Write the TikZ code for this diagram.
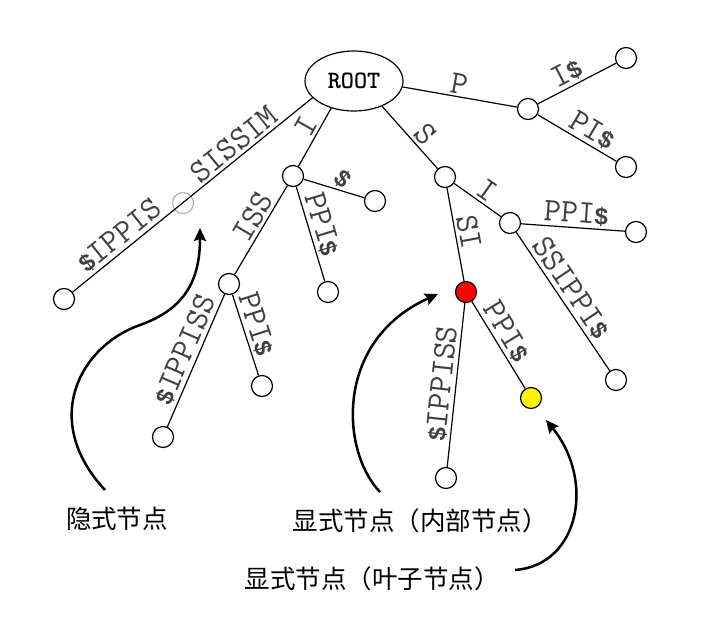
\documentclass[tikz,border=0pt]{standalone}
\usepackage{fontspec}
\usetikzlibrary{shapes.geometric,arrows.meta}
\newfontfamily\cjkfont{Noto Sans CJK SC}
\newfontfamily\dfont{Liberation Sans}
\newcommand\labfont{\ttfamily\fontsize{33}{33}\selectfont}
\newcommand\dol{{\dfont\bfseries\fontsize{24}{24}\selectfont\$}}
\tikzset{
  tn/.style={circle, draw, fill=white, minimum size=21pt, inner sep=0pt, line width=1.2pt},
  impnode/.style={circle, draw=black!30, minimum size=21pt, inner sep=0pt, line width=1.2pt},
  rootnode/.style={ellipse, draw, line width=1.2pt, minimum width=98pt, minimum height=60pt, inner sep=0pt,
    font=\ttfamily\bfseries\fontsize{25}{25}\selectfont},
  edgeline/.style={line width=1.2pt},
  lab/.style={sloped, above, inner sep=3pt, text=black!75, font=\labfont},
  ann/.style={line width=2.5pt, -{Stealth[length=13pt,width=12pt,inset=2pt]}},
  cjklab/.style={font=\cjkfont\fontsize{25.5}{30}\selectfont, inner sep=0pt},
}
\begin{document}
\begin{tikzpicture}[x=1pt,y=-1pt]
\useasboundingbox (0,0) rectangle (721,619);
% nodes
\node[rootnode] (root) at (354,81) {ROOT};
\node[impnode] (imp) at (183,203) {};
\node[tn] (leafA) at (64,299) {};
\node[tn] (nI) at (293,176) {};
\node[tn] (lIdol) at (375,201) {};
\node[tn] (lIPPI) at (328,292) {};
\node[tn] (nISS) at (229,284) {};
\node[tn] (lISS1) at (163,437) {};
\node[tn] (lISS2) at (262,386) {};
\node[tn] (nS) at (445,177) {};
\node[tn] (nSI) at (510,223) {};
\node[tn] (lSIPPI) at (636,232) {};
\node[tn] (lSSIPPI) at (616,380) {};
\node[tn, fill=red] (red) at (466,292) {};
\node[tn] (lR1) at (446,478) {};
\node[tn, fill=yellow] (yel) at (531,398) {};
\node[tn] (nP) at (528,109) {};
\node[tn] (lP1) at (626,58) {};
\node[tn] (lP2) at (626,167) {};
% edges
\draw[edgeline] (root.202) -- (leafA);
\draw[edgeline] (root.230) -- (nI);
\draw[edgeline] (root.-42) -- (nS);
\draw[edgeline] (root.-7) -- (nP);
\draw[edgeline] (nI) -- (lIdol);
\draw[edgeline] (nI) -- (lIPPI);
\draw[edgeline] (nI) -- (nISS);
\draw[edgeline] (nISS) -- (lISS1);
\draw[edgeline] (nISS) -- (lISS2);
\draw[edgeline] (nS) -- (nSI);
\draw[edgeline] (nS) -- (red);
\draw[edgeline] (nSI) -- (lSIPPI);
\draw[edgeline] (nSI) -- (lSSIPPI);
\draw[edgeline] (red) -- (lR1);
\draw[edgeline] (red) -- (yel);
\draw[edgeline] (nP) -- (lP1);
\draw[edgeline] (nP) -- (lP2);
% labels
\path (leafA) -- (imp) node[lab, pos=.55] {\dol IPPIS};
\path (imp) -- (root.202) node[lab, pos=.42] {SISSIM};
\path (root.230) -- (nI) node[lab, pos=.42] {I};
\path (root.-42) -- (nS) node[lab, pos=.6] {S};
\path (root.-7) -- (nP) node[lab, pos=.48] {P};
\path (nP) -- (lP1) node[lab, pos=.45] {I\dol};
\path (nP) -- (lP2) node[lab, pos=.6] {PI\dol};
\path (nI) -- (lIdol) node[lab, pos=.5, rotate=-25] {\dol};
\path (nI) -- (lIPPI) node[lab, pos=.44] {PPI\dol};
\path (nI) -- (nISS) node[lab, pos=.43] {ISS};
\path (nISS) -- (lISS1) node[lab, pos=.46] {\dol IPPISS};
\path (nISS) -- (lISS2) node[lab, pos=.42] {PPI\dol};
\path (nS) -- (nSI) node[lab, pos=.54] {I};
\path (nS) -- (red) node[lab, pos=.5] {SI};
\path (nSI) -- (lSIPPI) node[lab, pos=.52] {PPI\dol};
\path (nSI) -- (lSSIPPI) node[lab, pos=.46] {SSIPPI\dol};
\path (red) -- (lR1) node[lab, pos=.5] {\dol IPPISS};
\path (red) -- (yel) node[lab, pos=.43] {PPI\dol};
% annotation labels
\node[cjklab] (t1) at (117,519) {隐式节点};
\node[cjklab] (t2) at (420,521) {显式节点（内部节点）};
\node[cjklab] (t3) at (372,579) {显式节点（叶子节点）};
% annotation arrows
\coordinate (a1s) at (105,490);
\coordinate (a1m) at (140,325);
\coordinate (a1e) at (200,228);
\coordinate (a2s) at (380,492);
\coordinate (a2e) at (438,294);
\coordinate (a3s) at (515,570);
\coordinate (a3e) at (546,420);
\draw[ann] (a1s) .. controls (40,420) and (80,346) .. (a1m) .. controls (185,309) and (200,280) .. (a1e);
\draw[ann] (a2s) .. controls (340,450) and (335,340) .. (a2e);
\draw[ann] (a3s) .. controls (580,565) and (595,480) .. (a3e);
\end{tikzpicture}
\end{document}
